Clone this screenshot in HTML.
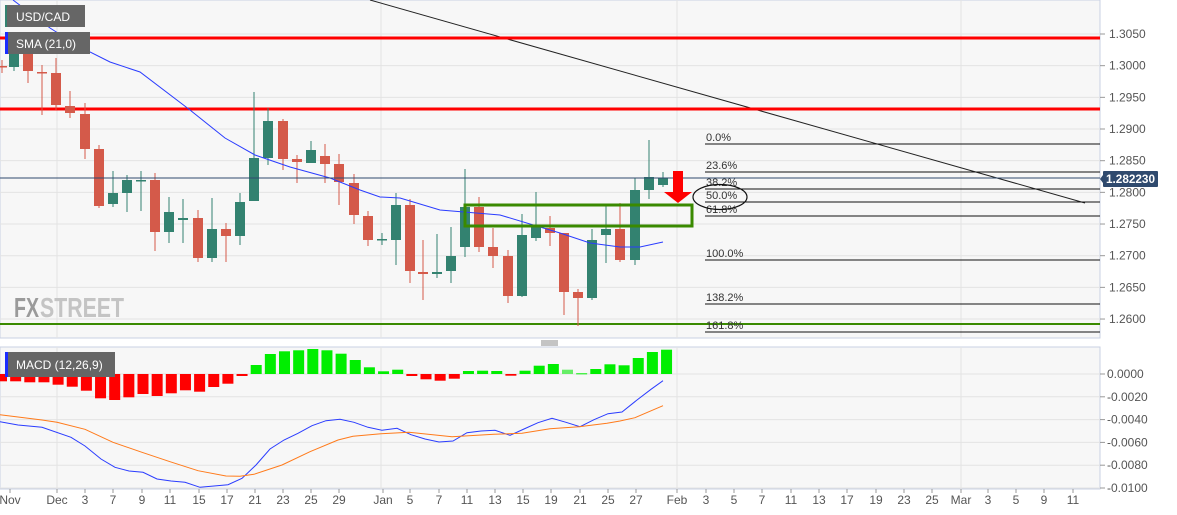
<!DOCTYPE html>
<html><head><meta charset="utf-8"><style>
body{margin:0;background:#fff;font-family:"Liberation Sans",sans-serif}
svg{display:block}
</style></head><body>
<svg id="s" width="1177" height="515" xmlns="http://www.w3.org/2000/svg" font-family="Liberation Sans, sans-serif">
<rect x="0" y="0" width="1177" height="515" fill="#fff"/>
<rect x="0" y="0" width="1100" height="338" fill="#f7f7f7" stroke="#c9d1e3"/>
<rect x="0" y="347" width="1100" height="142" fill="#f7f7f7" stroke="#c9d1e3"/>
<g id="grid" stroke="#e3e3e3" stroke-width="1"></g>
<g id="lbl" font-size="12" fill="#555"></g>
<text x="14" y="317" font-size="28" font-weight="bold" fill="#9a9a9a" textLength="25" lengthAdjust="spacingAndGlyphs">FX</text>
<text x="40" y="317" font-size="28" font-weight="bold" fill="#c4c4c4" textLength="84" lengthAdjust="spacingAndGlyphs">STREET</text>
<line x1="370" y1="0" x2="1085" y2="203" stroke="#222" stroke-width="1"/>
<line x1="0" y1="38" x2="1100" y2="38" stroke="#f00" stroke-width="3"/>
<line x1="0" y1="109" x2="1100" y2="109" stroke="#f00" stroke-width="3"/>
<line x1="0" y1="324" x2="1100" y2="324" stroke="#3a8a00" stroke-width="2"/>
<g id="fib" font-size="11" fill="#333"></g>
<g id="cand"></g>
<polyline id="sma" fill="none" stroke="#2a3cff" stroke-width="1"/>
<line x1="0" y1="178" x2="1100" y2="178" stroke="#2f4a6e" stroke-width="1"/>
<rect x="465" y="205" width="227" height="21" fill="none" stroke="#3a8a00" stroke-width="3"/>
<rect x="673" y="171" width="10" height="21" fill="#f00"/>
<polygon points="664,192 692,192 678,203" fill="#f00"/>
<ellipse cx="720" cy="197" rx="27" ry="12.5" fill="none" stroke="#111" stroke-width="1.2"/>
<g id="hist"></g>
<polyline id="macd" fill="none" stroke="#2a3cff" stroke-width="1"/>
<polyline id="sig" fill="none" stroke="#ff7a1a" stroke-width="1"/>
<rect x="1103" y="171" width="55" height="16" rx="1" fill="#2f4a6e"/>
<polygon points="1100,179 1103,175 1103,183" fill="#2f4a6e"/>
<text x="1106" y="183" font-size="12" font-weight="bold" fill="#fff" textLength="49" lengthAdjust="spacingAndGlyphs">1.282230</text>
<rect x="5" y="5" width="80" height="22" fill="#666"/><rect x="5" y="5" width="2" height="22" fill="#338270"/>
<text x="16" y="21" font-size="12" fill="#fff">USD/CAD</text>
<rect x="5" y="32" width="85" height="22" fill="#666"/><rect x="5" y="32" width="3" height="22" fill="#1a2cff"/>
<text x="16" y="48" font-size="12" fill="#fff">SMA (21,0)</text>
<rect x="5" y="352" width="110" height="25" fill="#666"/><rect x="5" y="352" width="3" height="25" fill="#1a2cff"/>
<text x="16" y="369" font-size="12" fill="#fff">MACD (12,26,9)</text>
<g stroke="#888"><line x1="541" y1="341" x2="558" y2="341"/><line x1="541" y1="343" x2="558" y2="343"/><line x1="541" y1="345" x2="558" y2="345"/></g>
</svg>
<script>
var NS="http://www.w3.org/2000/svg";
function el(p,t,a,txt){var e=document.createElementNS(NS,t);for(var k in a)e.setAttribute(k,a[k]);if(txt)e.textContent=txt;document.getElementById(p).appendChild(e);return e;}
var pl=["1.3050","1.3000","1.2950","1.2900","1.2850","1.2800","1.2750","1.2700","1.2650","1.2600"];
for(var i=0;i<10;i++){var y=34+i*31.67;el("grid","line",{x1:0,y1:y,x2:1100,y2:y});el("grid","line",{x1:1100,y1:y,x2:1105,y2:y,stroke:"#999"});el("lbl","text",{x:1109,y:y+4},pl[i]);}
var ml=["0.0000","-0.0020","-0.0040","-0.0060","-0.0080","-0.0100"];
for(i=0;i<6;i++){var y=374+i*22.8;el("grid","line",{x1:0,y1:y,x2:1100,y2:y});el("grid","line",{x1:1100,y1:y,x2:1105,y2:y,stroke:"#999"});el("lbl","text",{x:1107,y:y+4},ml[i]);}
[57,381,677,961].forEach(function(x){el("grid","line",{x1:x,y1:0,x2:x,y2:338});el("grid","line",{x1:x,y1:347,x2:x,y2:489});});
var dl=[["Nov",10],["Dec",57],["3",85],["7",113],["9",142],["11",170],["15",199],["17",227],["21",255],["23",283],["25",311],["29",339],["Jan",383],["5",410],["7",439],["11",467],["13",495],["15",523],["19",551],["21",580],["25",608],["27",636],["Feb",677],["3",706],["5",734],["7",762],["11",791],["13",819],["17",847],["19",876],["23",904],["25",932],["Mar",961],["3",988],["5",1016],["9",1044],["11",1073]];
dl.forEach(function(d){el("lbl","text",{x:d[1],y:504,"text-anchor":"middle"},d[0]);el("grid","line",{x1:d[1],y1:489,x2:d[1],y2:493,stroke:"#999"});});
[[144,"0.0%"],[172,"23.6%"],[189,"38.2%"],[202,"50.0%"],[216,"61.8%"],[260,"100.0%"],[304,"138.2%"],[332,"161.8%"]].forEach(function(f){el("fib","line",{x1:705,y1:f[0],x2:1100,y2:f[0],stroke:"#111"});el("fib","text",{x:706,y:f[0]-3},f[1]);});
var C=[[2,66,66,60,73,0],[14,67,52,48,71],[28,52,71,48,83],[42,72,72,65,115,0],[56,73,105,58,110],[70,106,113,91,118],[85,114,149,103,159],[99,149,206,145,208],[113,204,193,171,207],[127,193,180,175,212],[141,180,180,171,211,1],[155,180,232,173,251],[169,232,212,197,243],[183,220,218,199,243],[198,218,258,210,262],[212,258,229,198,262],[226,229,236,223,262],[240,236,202,193,245],[254,201,158,92,201],[268,158,121,108,165],[283,121,159,119,170],[297,159,162,155,183],[311,163,150,141,163],[325,156,164,144,183],[339,164,182,154,205],[354,183,215,174,224],[368,216,240,211,246],[382,239,239,233,245,1],[396,240,205,193,265],[410,205,271,199,283],[423,272,274,240,300],[437,274,272,234,278],[451,271,256,227,283],[465,247,207,169,257],[479,207,247,197,252],[493,247,256,228,268],[508,256,296,250,303],[522,296,235,214,297],[536,238,227,192,241],[550,228,233,216,246],[564,233,292,233,315],[578,292,298,289,326],[592,298,240,229,300],[606,235,229,206,263],[620,229,260,203,262],[635,260,190,178,265],[649,190,177,140,199],[663,185,178,172,187]];
C.forEach(function(c){var up=c.length>5?c[5]:(c[2]<c[1]);var col=up?"#338270":"#d45a4a";
el("cand","line",{x1:c[0],y1:c[3],x2:c[0],y2:c[4],stroke:col});
var t=Math.min(c[1],c[2]),h=Math.max(1.5,Math.abs(c[2]-c[1]));el("cand","rect",{x:c[0]-5,y:t,width:10,height:h,fill:col});});
document.getElementById("sma").setAttribute("points","13,0 50,28 80,47 110,62 140,72 190,110 225,138 255,155 290,167 330,178 360,190 380,197 400,198 440,210 500,215 560,233 590,243 620,247 640,247 663,242");
var H=[381.3,381.3,382.3,382.3,384.7,386.7,390.7,398.3,400,397.3,394,396,393.3,390.3,391.7,387,383.7,376,365,354,351.3,350.3,349,350.3,353.7,360,367.3,371.3,369.7,376,379.3,380.7,378.7,371,370.7,371,375.7,370.7,365.7,364,369.7,373.3,369,364.3,365.3,358,352,349.7];
H.forEach(function(v,k){var x=2+14.15*k;var red=v>374;var col=red?"#ff0000":"#00ee00";if(k==40)col="#66ee66";
el("hist","rect",{x:x-6,y:Math.min(v,374),width:11,height:Math.max(1,Math.abs(v-374)),fill:col});});
var M=[[0,421.7],[18,425],[42,427.3],[71,437.3],[85,446],[101,459],[115,467.3],[129,471],[143,472.3],[157,479],[171,481],[185,482.3],[200,487.3],[214,486],[228,484.7],[242,478.3],[256,465],[270,449],[284,440],[298,433.3],[312,425.7],[326,420.7],[340,419.3],[354,422.3],[368,427.3],[382,430.3],[397,428.3],[411,434.7],[425,439],[439,442],[453,441],[467,432.7],[481,431],[495,430.3],[510,435.3],[524,429],[538,422.7],[552,418.3],[566,422.3],[580,426.7],[594,419.7],[608,413.7],[622,412],[637,400],[651,389.3],[663,380.7]];
document.getElementById("macd").setAttribute("points",M.map(function(p){return p.join(",")}).join(" "));
var S=[[0,414.7],[42,420],[57,422.3],[85,429.3],[113,442.3],[142,452.3],[170,461.7],[198,470.7],[226,476],[240,476.3],[254,474.3],[282,465],[310,451.7],[338,440],[353,436.3],[381,433.7],[409,432.3],[452,436.7],[494,434.3],[522,433.3],[550,428.7],[579,426.7],[607,423.3],[620,421],[635,417.7],[663,405.7]];
document.getElementById("sig").setAttribute("points",S.map(function(p){return p.join(",")}).join(" "));
</script>
</body></html>
